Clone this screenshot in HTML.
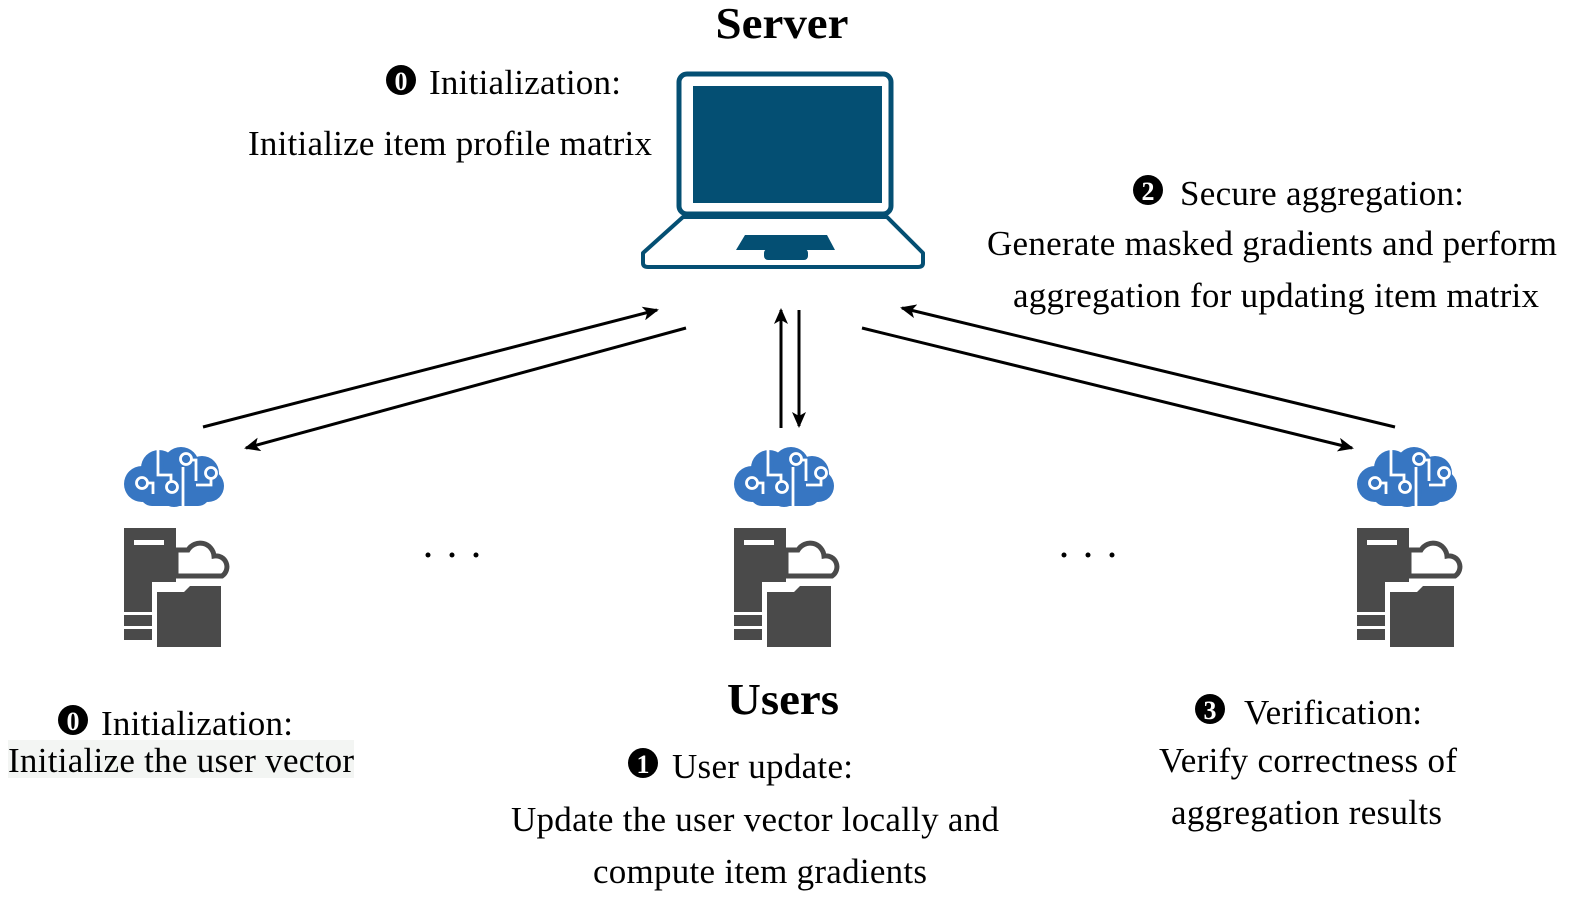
<!DOCTYPE html>
<html><head><meta charset="utf-8"><style>
html,body{margin:0;padding:0;background:#fff;}
svg{display:block;}
text{font-family:"Liberation Serif",serif;fill:#000;}
</style></head><body>
<svg width="1577" height="903" viewBox="0 0 1577 903" xmlns="http://www.w3.org/2000/svg">
<defs>
<marker id="ah" markerWidth="16" markerHeight="14" refX="14" refY="7" orient="auto" markerUnits="userSpaceOnUse">
<path d="M0,0 L16,7 L0,14 L4,7 z" fill="#000"/></marker>
<g id="brain">
  <g fill="#3776c2">
    <circle cx="20" cy="36" r="18"/>
    <circle cx="37" cy="20" r="18"/>
    <circle cx="59" cy="17" r="18"/>
    <circle cx="80" cy="25" r="17"/>
    <circle cx="86" cy="38" r="16"/>
    <rect x="18" y="26" width="70" height="32" rx="12"/>
    <circle cx="52" cy="44" r="15"/>
  </g>
  <g fill="none" stroke="#fff" stroke-width="2.8">
    <path d="M36,2 V27 H49 V33"/>
    <circle cx="50" cy="39" r="5.5"/>
    <circle cx="20" cy="35" r="5.5"/>
    <path d="M26,35 H31 V46"/>
    <circle cx="64" cy="11" r="5.5"/>
    <path d="M70,12 H74 V33"/>
    <circle cx="89" cy="25" r="5.5"/>
    <path d="M89,31 V37 H74"/>
    <path d="M61,19 V60"/>
  </g>
</g>
<g id="srv" fill="#4a4a4a">
  <rect x="0" y="0" width="52" height="112"/>
  <rect x="10" y="12" width="30" height="5" fill="#fff"/>
  <path d="M64,22 a14,14 0 0 1 26,6 a11,11 0 0 1 8,20 H52 V22 z" fill="none" stroke="#4a4a4a" stroke-width="5"/>
  <rect x="28" y="54" width="70" height="64" fill="#fff"/>
  <path d="M33,64 H60 L66,58 H97 V119 H33 z"/>
  <rect x="0" y="84" width="28" height="3" fill="#fff"/>
  <rect x="0" y="98" width="28" height="3" fill="#fff"/>
</g>
</defs>

<!-- laptop -->
<rect x="679" y="74" width="212" height="140" rx="8" fill="#fff" stroke="#044f73" stroke-width="5"/>
<rect x="693" y="86" width="189" height="117" fill="#044f73"/>
<path d="M683,217 H887 L923,253 V263 Q923,267 918,267 H648 Q643,267 643,263 V253 z" fill="#fff" stroke="#044f73" stroke-width="4" stroke-linejoin="round"/>
<path d="M745,235 H827 L835,250 H736 z" fill="#044f73"/>
<rect x="764" y="249" width="44" height="11" rx="4" fill="#044f73"/>

<!-- arrows -->
<g stroke="#000" stroke-width="3">
<line x1="203" y1="427" x2="657" y2="310" marker-end="url(#ah)"/>
<line x1="686" y1="328" x2="246" y2="448" marker-end="url(#ah)"/>
<line x1="781" y1="428" x2="781" y2="310" marker-end="url(#ah)"/>
<line x1="799" y1="310" x2="799" y2="426" marker-end="url(#ah)"/>
<line x1="1395" y1="427" x2="902" y2="308" marker-end="url(#ah)"/>
<line x1="862" y1="328" x2="1352" y2="448" marker-end="url(#ah)"/>
</g>

<use href="#brain" x="122" y="448"/>
<use href="#brain" x="732" y="448"/>
<use href="#brain" x="1355" y="448"/>
<use href="#srv" x="124" y="528"/>
<use href="#srv" x="734" y="528"/>
<use href="#srv" x="1357" y="528"/>

<g fill="#000">
<circle cx="428" cy="555" r="2.5"/><circle cx="452" cy="555" r="2.5"/><circle cx="476" cy="555" r="2.5"/>
<circle cx="1064" cy="555" r="2.5"/><circle cx="1088" cy="555" r="2.5"/><circle cx="1112" cy="555" r="2.5"/>
</g>

<rect x="8" y="740" width="346" height="38" fill="#f3f5f3"/>

<g font-size="35">
<text x="782" y="38" text-anchor="middle" font-weight="bold" font-size="44" textLength="133" lengthAdjust="spacingAndGlyphs">Server</text>
<text x="783" y="714" text-anchor="middle" font-weight="bold" font-size="44" textLength="112" lengthAdjust="spacingAndGlyphs">Users</text>

<circle cx="401" cy="80" r="15" fill="#000"/><text x="401" y="90" text-anchor="middle" font-size="26" font-weight="bold" style="fill:#fff">0</text>
<text x="429" y="94" textLength="192">Initialization:</text>
<text x="248" y="155" textLength="404">Initialize item profile matrix</text>

<circle cx="1148" cy="190" r="15" fill="#000"/><text x="1148" y="200" text-anchor="middle" font-size="26" font-weight="bold" style="fill:#fff">2</text>
<text x="1180" y="205" textLength="284">Secure aggregation:</text>
<text x="987" y="255" textLength="570">Generate masked gradients and perform</text>
<text x="1013" y="307" textLength="526">aggregation for updating item matrix</text>

<circle cx="73" cy="720" r="15" fill="#000"/><text x="73" y="730" text-anchor="middle" font-size="26" font-weight="bold" style="fill:#fff">0</text>
<text x="101" y="735" textLength="192">Initialization:</text>
<text x="8" y="772" textLength="346">Initialize the user vector</text>

<circle cx="643" cy="763" r="15" fill="#000"/><text x="643" y="773" text-anchor="middle" font-size="26" font-weight="bold" style="fill:#fff">1</text>
<text x="672" y="778" textLength="181">User update:</text>
<text x="511" y="831" textLength="488">Update the user vector locally and</text>
<text x="593" y="883" textLength="334">compute item gradients</text>

<circle cx="1210" cy="709" r="15" fill="#000"/><text x="1210" y="719" text-anchor="middle" font-size="26" font-weight="bold" style="fill:#fff">3</text>
<text x="1244" y="724" textLength="178">Verification:</text>
<text x="1159" y="772" textLength="298">Verify correctness of</text>
<text x="1171" y="824" textLength="271">aggregation results</text>
</g>
</svg>
</body></html>
